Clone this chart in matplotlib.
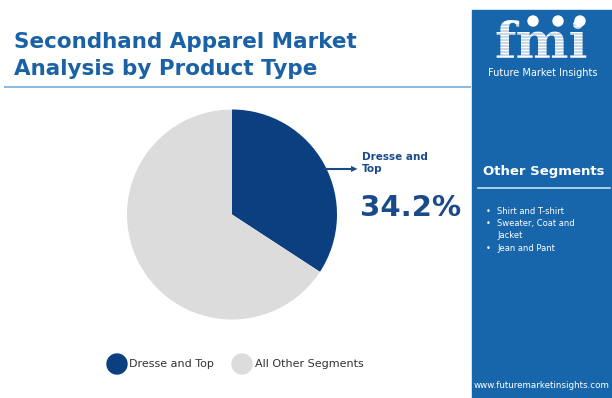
import matplotlib.pyplot as plt
from matplotlib.patches import Rectangle, Ellipse

# data
segmenty = ['Dresse and Top', 'All Other Segments']
udzialy = [34.2, 65.8]
kolory = ['#0b3f80', '#dcdcdc']
inne_segmenty = ['Shirt and T-shirt', 'Sweater, Coat and\nJacket', 'Jean and Pant']

tytul = ['Secondhand Apparel Market', 'Analysis by Product Type']
niebieski = '#1766ab'
ciemny = '#1b4a8a'

W, H = 612, 398


def kolko(x, y, r, kolor, z=3):
    # kolo w pikselach figury
    fig.add_artist(Ellipse((x / W, 1 - y / H), 2 * r / W, 2 * r / H,
                           transform=fig.transFigure, color=kolor, zorder=z))


fig = plt.figure(figsize=(6.12, 3.98), dpi=100)
fig.patch.set_facecolor('white')

# tytul
for linia, yb in zip(tytul, [48, 75]):
    fig.text(14 / W, 1 - yb / H, linia, color='#1a62a5', fontsize=15.5,
             fontweight='bold', va='baseline', ha='left')
fig.add_artist(plt.Line2D([5 / W, 470 / W], [1 - 87 / H] * 2,
                          color='#8dbbe0', lw=1.5, transform=fig.transFigure))

# prawy panel
fig.add_artist(Rectangle((472 / W, 0), 140 / W, 1 - 10 / H,
                         transform=fig.transFigure, color=niebieski, zorder=0))
fig.text(541 / W, 1 - 58 / H, 'fmi', color='white', fontsize=36,
         fontweight='bold', family='DejaVu Serif', ha='center', va='baseline')
for y in range(25, 60, 3):
    fig.add_artist(plt.Line2D([490 / W, 595 / W], [1 - y / H] * 2, color=niebieski,
                              lw=0.35, transform=fig.transFigure, zorder=4))
for x in [533, 558, 580]:
    kolko(x, 21, 5, 'white', 5)
fig.text(543 / W, 1 - 73 / H, 'Future Market Insights', color='white',
         fontsize=7, ha='center', va='center')

fig.text(544 / W, 1 - 172 / H, 'Other Segments', color='white', fontsize=9.5,
         fontweight='bold', ha='center', va='center')
fig.add_artist(plt.Line2D([478 / W, 610 / W], [1 - 188 / H] * 2,
                          color='#c8ddef', lw=1.2, transform=fig.transFigure))
y = 211
for s in inne_segmenty:
    fig.text(486 / W, 1 - y / H, '•', color='white', fontsize=6, ha='left', va='center')
    fig.text(497 / W, 1 - y / H, s.split('\n')[0], color='white', fontsize=6,
             ha='left', va='center')
    for extra in s.split('\n')[1:]:
        y += 12.5
        fig.text(497 / W, 1 - y / H, extra, color='white', fontsize=6,
                 ha='left', va='center')
    y += 12.5
fig.text(542 / W, 1 - 386 / H, 'www.futuremarketinsights.com', color='white',
         fontsize=6.3, ha='center', va='center')

# wykres kolowy
ax = fig.add_axes([127 / W, 78 / H, 210 / W, 211 / H])
ax.pie(udzialy, colors=kolory, startangle=90, counterclock=False,
       wedgeprops=dict(linewidth=0))
ax.set_aspect('equal')
ax.set_xlim(-1, 1)
ax.set_ylim(-1, 1)

fig.add_artist(plt.Line2D([325 / W, 350 / W], [1 - 169 / H] * 2,
                          color=ciemny, lw=1.5, transform=fig.transFigure))
fig.text(354 / W, 1 - 169 / H, '▶', color=ciemny, fontsize=6,
         ha='center', va='center')
fig.text(362 / W, 1 - 163 / H, 'Dresse and\nTop', color=ciemny, fontsize=7.5,
         fontweight='bold', ha='left', va='center', linespacing=1.3)
fig.text(360 / W, 1 - 208 / H, f'{udzialy[0]}%', color=ciemny, fontsize=21,
         fontweight='bold', ha='left', va='center')

# legenda
for kx, tx, kol, lab in [(117, 129, kolory[0], segmenty[0]), (242, 255, kolory[1], segmenty[1])]:
    kolko(kx, 364, 10, kol)
    fig.text(tx / W, 1 - 364 / H, lab, color='#333333', fontsize=8,
             ha='left', va='center')

fig.savefig('out.png', dpi=100)
